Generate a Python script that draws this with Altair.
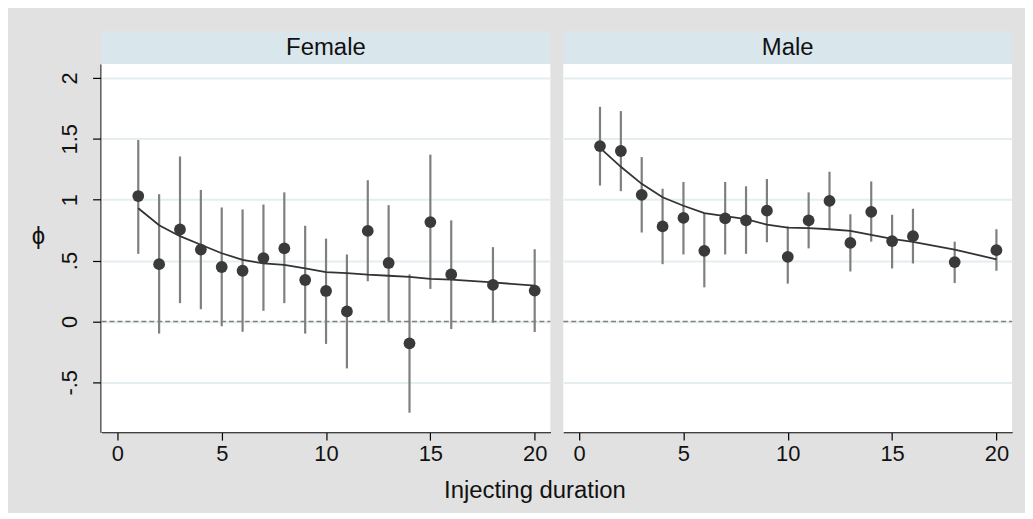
import altair as alt
import pandas as pd

# ---- data ----
fem_x   = [1, 2, 3, 4, 5, 6, 7, 8, 9, 10, 11, 12, 13, 14, 15, 16, 18, 20]
fem_est = [1.03, 0.47, 0.755, 0.59, 0.447, 0.416, 0.52, 0.60, 0.34, 0.25, 0.082, 0.743, 0.48, -0.18, 0.816, 0.386, 0.30, 0.253]
fem_lo  = [0.555, -0.10, 0.15, 0.10, -0.04, -0.085, 0.087, 0.15, -0.10, -0.185, -0.386, 0.33, 0.0, -0.75, 0.267, -0.063, -0.01, -0.087]
fem_hi  = [1.49, 1.045, 1.355, 1.08, 0.936, 0.92, 0.96, 1.06, 0.786, 0.68, 0.55, 1.16, 0.955, 0.386, 1.37, 0.83, 0.61, 0.593]
fem_fit = [0.93, 0.79, 0.70, 0.63, 0.56, 0.506, 0.476, 0.465, 0.435, 0.405, 0.397, 0.384, 0.375, 0.365, 0.35, 0.343, 0.32, 0.294]

male_x   = [1, 2, 3, 4, 5, 6, 7, 8, 9, 10, 11, 12, 13, 14, 15, 16, 18, 20]
male_est = [1.44, 1.40, 1.04, 0.78, 0.85, 0.58, 0.846, 0.83, 0.91, 0.53, 0.83, 0.99, 0.645, 0.90, 0.66, 0.70, 0.487, 0.585]
male_lo  = [1.116, 1.07, 0.73, 0.47, 0.55, 0.28, 0.55, 0.555, 0.65, 0.31, 0.60, 0.757, 0.41, 0.655, 0.435, 0.476, 0.315, 0.416]
male_hi  = [1.763, 1.728, 1.35, 1.09, 1.145, 0.89, 1.145, 1.11, 1.17, 0.78, 1.06, 1.23, 0.88, 1.15, 0.876, 0.925, 0.655, 0.757]
male_fit = [1.425, 1.27, 1.13, 1.02, 0.95, 0.89, 0.865, 0.84, 0.795, 0.77, 0.767, 0.757, 0.743, 0.71, 0.678, 0.653, 0.59, 0.51]

sexes = ["Female", "Male"]
y_ticks = [-0.5, 0, 0.5, 1, 1.5, 2]
x_ticks = [0, 5, 10, 15, 20]

rows = []
for sex, xs, es, los, his, fits in [
    ("Female", fem_x, fem_est, fem_lo, fem_hi, fem_fit),
    ("Male", male_x, male_est, male_lo, male_hi, male_fit),
]:
    for i in range(len(xs)):
        rows.append({"sex": sex, "x": xs[i], "est": es[i], "lo": los[i],
                     "hi": his[i], "fit": fits[i]})
df = pd.DataFrame(rows)

W = 451
H = 370
FONT = "Liberation Sans"
LBL = 22

xs = alt.Scale(domain=[-0.76, 20.75], nice=False, zero=False)
ys = alt.Scale(domain=[-0.91, 2.115], nice=False, zero=False)

x_axis = alt.Axis(values=x_ticks, grid=False, labelFontSize=LBL, labelPadding=3,
                  title=None)
y_axis = alt.Axis(values=y_ticks, labelAngle=270, labelFontSize=LBL,
                  labelPadding=11, grid=True,
                  labelExpr="datum.value == 0 ? '0' : replace(toString(datum.value), '0.', '.')",
                  title="ϕ", titleAngle=0, titlePadding=21, titleFontSize=24,
                  gridColor="#e4eef1", gridWidth=2, gridOpacity=1)

X = alt.X("x:Q", scale=xs, axis=x_axis)

base = alt.Chart()

strip = base.transform_aggregate(n="count()", groupby=["sex"]).mark_rect(
    color="#d9e6ec"
).encode(x=alt.value(0), x2=alt.value(W), y=alt.value(-33), y2=alt.value(0))

strip_text = base.transform_aggregate(n="count()", groupby=["sex"]).mark_text(
    font=FONT, fontSize=24, color="#111111", baseline="middle"
).encode(text="sex:N", x=alt.value(W / 2), y=alt.value(-16))

zero = base.transform_aggregate(n="count()", groupby=["sex"]).mark_rule(
    color="#808080", strokeDash=[5, 3], strokeWidth=1.5
).encode(y=alt.datum(0, scale=ys, axis=y_axis), x=alt.value(0), x2=alt.value(W))

bars = base.mark_rule(color="#7f7f7f", strokeWidth=2.2).encode(
    x=X, y=alt.Y("lo:Q", scale=ys, axis=y_axis), y2="hi:Q")

fitline = base.mark_line(color="#333333", strokeWidth=1.8).encode(
    x=X, y=alt.Y("fit:Q", scale=ys, axis=y_axis))

pts = base.mark_circle(color="#3a3a3a", opacity=1, size=140).encode(
    x=X, y=alt.Y("est:Q", scale=ys, axis=y_axis))

layer = alt.layer(zero, bars, fitline, pts, strip, strip_text).properties(
    width=W, height=H)

chart = layer.facet(
    column=alt.Column("sex:N", header=alt.Header(labels=False), title=None),
    data=df,
    spacing=11,
).properties(
    title=alt.TitleParams("Injecting duration", orient="bottom", anchor="middle",
                          font=FONT, fontSize=24, fontWeight="normal",
                          color="#111111", offset=15, dx=13),
    padding={"left": 23, "top": 22, "right": 12, "bottom": 9},
    background="#e1e1e1",
).configure_view(
    stroke=None, fill="white"
).configure_axis(
    labelFont=FONT, titleFont=FONT, labelColor="#111111", labelFontSize=LBL,
    titleColor="#111111", titleFontWeight="normal", titleFontSize=24,
    domainColor="#000000", domainWidth=1.2, tickColor="#000000", tickSize=8,
    tickWidth=1.2,
).configure_axisY(titleAngle=0, grid=True, gridColor="#e4eef1", gridWidth=2)

chart.save("out.html", embed_options={"renderer": "svg", "actions": False})
